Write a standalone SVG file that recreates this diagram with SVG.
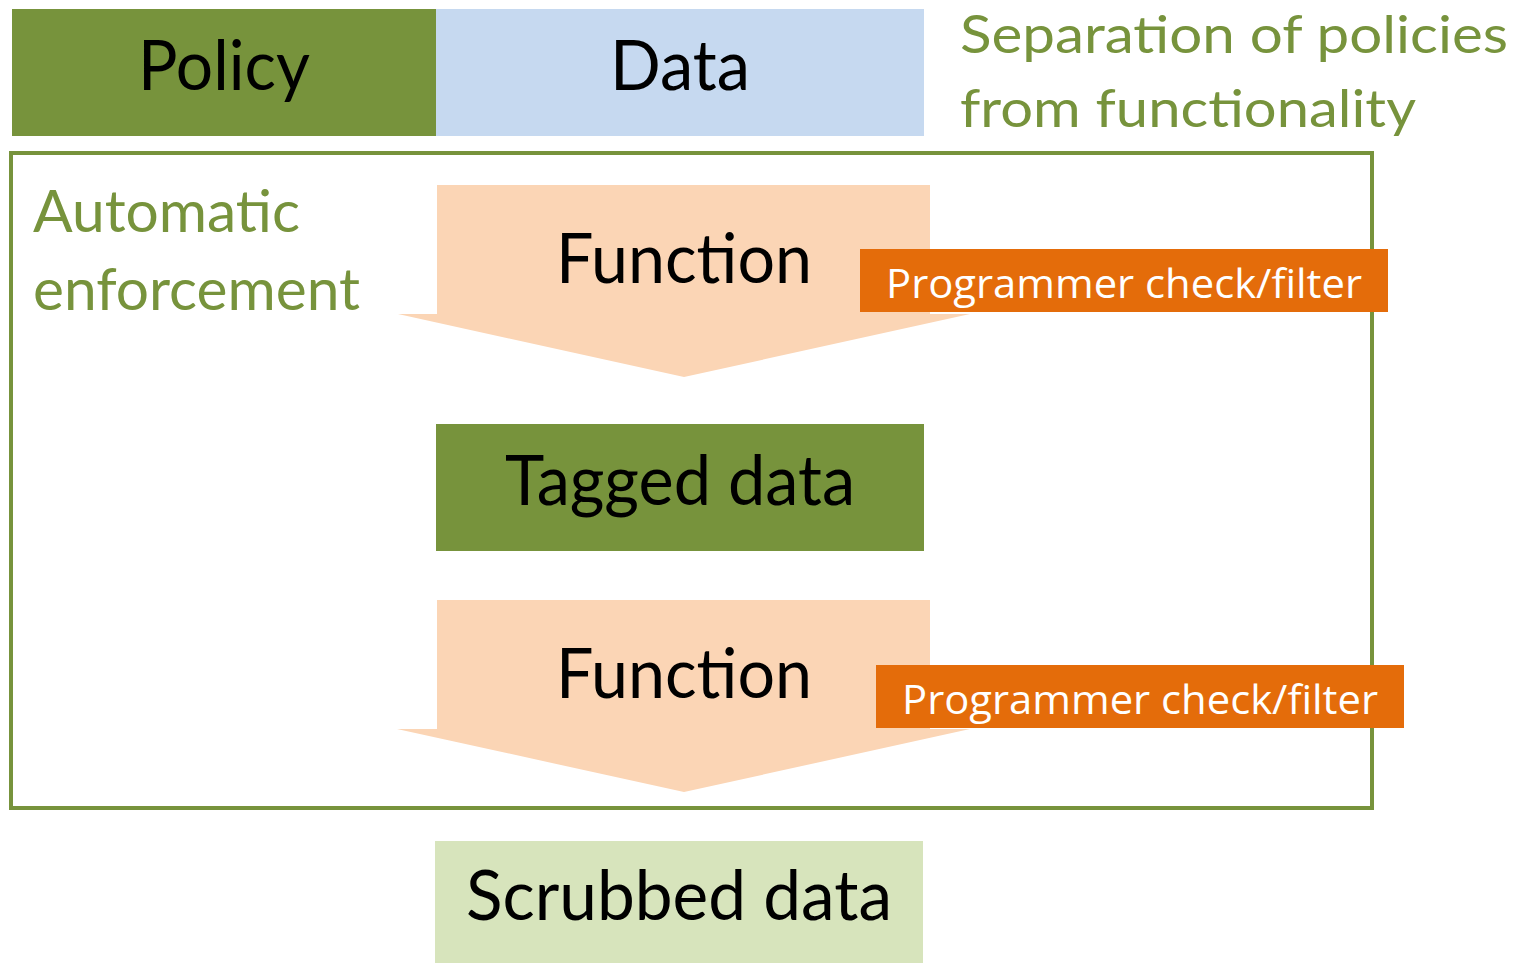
<svg xmlns="http://www.w3.org/2000/svg" width="1532" height="965" viewBox="0 0 1532 965">
<style>
.big{font-family:Lato,"Open Sans","Liberation Sans",sans-serif;font-size:70px;fill:#000;}
.grn{font-family:Lato,"Open Sans","Liberation Sans",sans-serif;font-size:58px;fill:#77933c;}
.ttl{font-size:53px;}
.lbl{font-family:"Open Sans","Liberation Sans",sans-serif;font-size:40px;fill:#fff;}
.arrow{fill:#fbd5b5;}
.tag{fill:#e46c0a;}
</style>
<rect width="1532" height="965" fill="#fff"/>
<g id="policy"><rect x="12" y="9" width="424" height="127" fill="#77933c"/><text class="big" x="224" y="90" text-anchor="middle" textLength="172" lengthAdjust="spacingAndGlyphs">Policy</text></g>
<g id="data"><rect x="436" y="9" width="488" height="127" fill="#c6d9f0"/><text class="big" x="680" y="90" text-anchor="middle" textLength="140" lengthAdjust="spacingAndGlyphs">Data</text></g>
<g id="title"><text class="grn ttl" x="960" y="53" textLength="548" lengthAdjust="spacingAndGlyphs">Separation of policies</text><text class="grn ttl" x="960" y="127" textLength="456" lengthAdjust="spacingAndGlyphs">from functionality</text></g>
<g id="frame"><rect x="11" y="153" width="1361" height="655" fill="none" stroke="#77933c" stroke-width="4"/><text class="grn" x="33" y="232" textLength="267" lengthAdjust="spacingAndGlyphs">Automatic</text><text class="grn" x="33" y="310" textLength="327" lengthAdjust="spacingAndGlyphs">enforcement</text></g>
<g id="function1"><polygon class="arrow" points="437,185 930,185 930,314 970,314 684,377 398,314 437,314"/><text class="big" x="684" y="283" text-anchor="middle" textLength="256" lengthAdjust="spacingAndGlyphs">Function</text></g>
<g id="check1"><rect class="tag" x="860" y="249" width="528" height="63"/><text class="lbl" x="886" y="298" textLength="476" lengthAdjust="spacingAndGlyphs">Programmer check/filter</text></g>
<g id="tagged"><rect x="436" y="424" width="488" height="127" fill="#77933c"/><text class="big" x="680" y="505" text-anchor="middle" textLength="350" lengthAdjust="spacingAndGlyphs">Tagged data</text></g>
<g id="function2"><polygon class="arrow" points="437,600 930,600 930,729 970,729 684,792 397,729 437,729"/><text class="big" x="684" y="698" text-anchor="middle" textLength="256" lengthAdjust="spacingAndGlyphs">Function</text></g>
<g id="check2"><rect class="tag" x="876" y="665" width="528" height="63"/><text class="lbl" x="902" y="714" textLength="476" lengthAdjust="spacingAndGlyphs">Programmer check/filter</text></g>
<g id="scrubbed"><rect x="435" y="841" width="488" height="122" fill="#d7e4bc"/><text class="big" x="679" y="920" text-anchor="middle" textLength="426" lengthAdjust="spacingAndGlyphs">Scrubbed data</text></g>
<g id="connectors"></g>
</svg>
